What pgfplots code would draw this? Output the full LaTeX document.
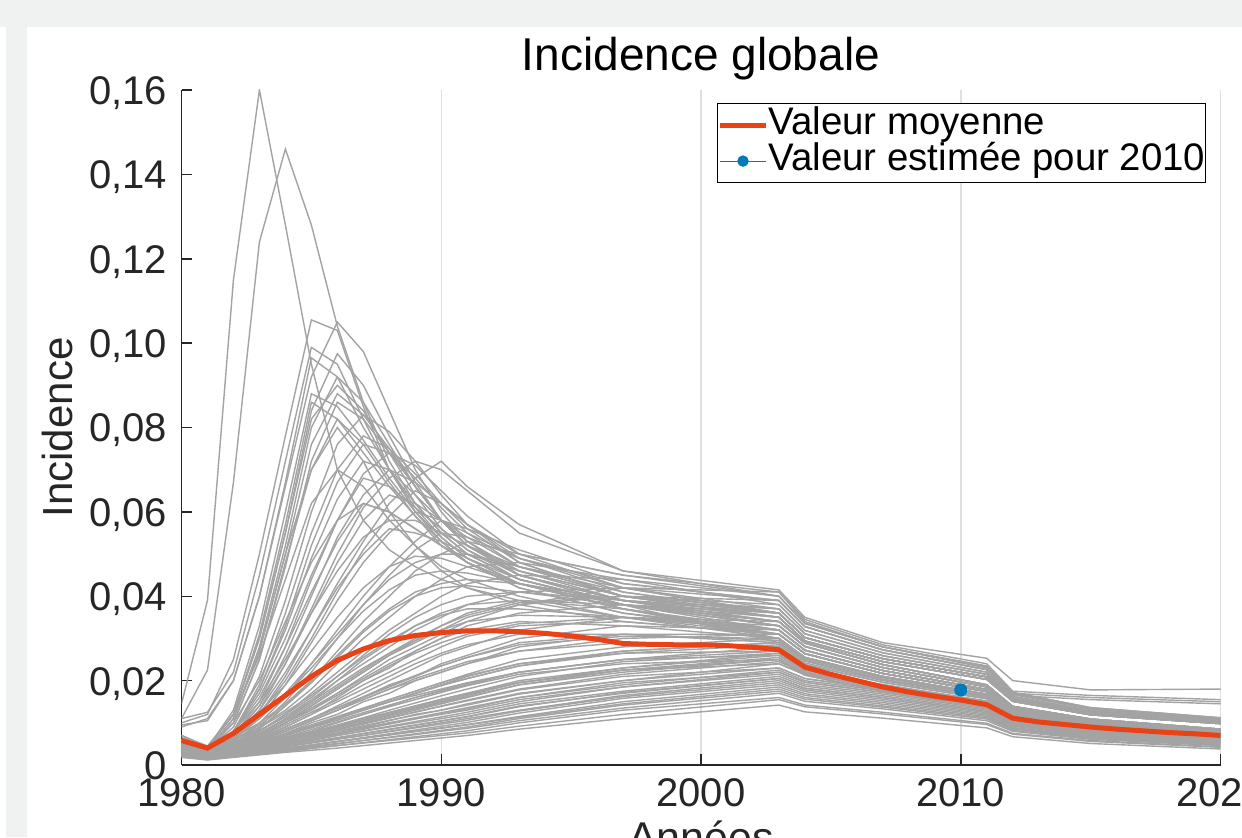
\documentclass[border=0pt]{standalone}
\usepackage{fontspec}
\setmainfont{Liberation Sans}
\usepackage{pgfplots}
\usepackage{pgfplotstable}
\pgfplotsset{compat=1.18}

\definecolor{bggray}{RGB}{240,242,241}
\definecolor{axisgray}{RGB}{38,38,38}
\definecolor{gridgray}{RGB}{223,223,223}
\definecolor{curvegray}{RGB}{163,163,163}
\definecolor{meanred}{RGB}{233,66,22}
\definecolor{bluept}{RGB}{0,122,186}

% one row per simulated curve, values in 1/1000
\pgfplotstableread[header=has colnames]{
1980 1981 1982 1983 1984 1985 1986 1987 1988 1989 1990 1991 1993 1997 2003 2004 2007 2011 2012 2015 2020
14.5 39 115 160 128 95 70 58 51 47 44 42 39 35 32 27.2 22.4 17.9 13.1 10.2 8.0
11 22.5 67 124 146 128 104 86 72 62 55 50 44 38 33 28.1 23.1 18.5 13.5 10.6 8.3
10 12 25 50 78 105.5 103 85 70 60 53 48 43 37 31 26.4 21.7 17.4 12.7 9.9 7.8
9 11 20 40 66 92 105 98 84 70 60 53 45 38 34 28.9 23.8 19.0 13.9 10.9 8.5
11 12.5 22 45 72 99 95 82 70 61 54 49 43 37 30 25.5 21.0 16.8 12.3 9.6 7.5
7 4 12 30 55 84 97.5 90 78 67 58 52 45 39 35 29.4 24.5 20.3 15.1 11.9 9.8
9.5 10.5 20 40 67 96.5 92 80 70 62 55 50 44 38 34 28.9 23.8 19.0 13.9 10.9 8.5
6 3.5 11 28 52 80 92 86 76 66 58 52 46 40 36 30.2 25.2 20.9 15.5 12.2 10.1
7 4 12 30 55 82 90 84 74 64 56 51 44 38 29 24.7 20.3 16.2 11.9 9.3 7.3
6 3.5 11 27 50 76 88 83 75 66 58 52 45 39 35 29.4 24.5 20.3 15.1 11.9 9.8
7 4 13 33 60 88 85 77 68 60 54 49 43 37 31 26.4 21.7 17.4 12.7 9.9 7.8
6 3.5 10 25 47 72 86 82 74 66 58 52 45 39 37 31.1 25.9 21.5 15.9 12.6 10.4
6 4 12 31 57 86 82 74 66 59 53 48 42 36 32 27.2 22.4 17.9 13.1 10.2 8.0
6 3.5 9 21 39 60 76 83 79 72 64 57 48 40 35 29.4 24.5 20.3 15.1 11.9 9.8
5 3 8 19 36 55 70 78 75 69 62 56 48 40 36 30.2 25.2 20.9 15.5 12.2 10.1
5.5 3 8 18 33 52 67 76 74 68 61 55 47 40 38 31.9 26.6 22.0 16.3 12.9 10.6
5 3 7 15 28 44 58 69 74 71 65 59 50 45 41 34.5 28.5 24 17.5 16.5 15.5
5 3 6.5 13 24 37 50 61 68 72 70 65 55 46 40 33.5 28 23.5 17 16 15
4.5 2.5 6 12 21 32 43 53 62 68 72 66 57 46 41.5 35 29 25.3 20 17.8 18
5 3 7 14 26 40 54 64 70 67 62 57 49 41 36 30.2 25.2 20.9 15.5 12.2 10.1
4.5 2.5 6 11 19 29 39 48 55 60 58 55 49 43 39 32.8 27.3 22.6 16.8 13.3 10.9
6 3.5 11 27 50 70 80 72 60 52 46 42 38 34 31 26.4 21.7 17.4 12.7 9.9 7.8
5 3 8 17 30 45 58 68 66 61 56 51 45 39 34 28.9 23.8 19.0 13.9 10.9 8.5
4.5 3 7 14 24 36 48 58 64 62 58 54 47 40 35 29.4 24.5 20.3 15.1 11.9 9.8
4.5 2.5 6 12 20 30 41 51 59 65 62 57 50 42 36 30.2 25.2 20.9 15.5 12.2 10.1
4 2.5 5.5 10 16 24 32 40 47 53 58 56 51 43 39 32.8 27.3 22.6 16.8 13.3 10.9
4 2.5 5 9 15 22 30 38 45 51 55 54 49 42 36 30.2 25.2 20.9 15.5 12.2 10.1
4 2.5 5 8.5 14 20 27 34 40 46 50 53 50 45 40 33.6 28 23.2 17.2 13.6 11.2
5 3 7 13 22 32 42 50 56 55 53 50 46 40 35 29.4 24.5 20.3 15.1 11.9 9.8
5 3 8 16 28 41 53 62 60 56 52 49 44 38 34 28.9 23.8 19.0 13.9 10.9 8.5
6 3.5 10 25 48 70 82 76 67 59 52 48 42 36 31 26.4 21.7 17.4 12.7 9.9 7.8
5 3 8 18 32 49 63 72 70 64 58 53 46 39 33 28.1 23.1 18.5 13.5 10.6 8.3
4 2.5 5 8 12 17 22 27 32 36 40 43 45 44 40 33.6 28 23.2 17.2 13.6 11.2
4 2.5 5 7.5 11 15 20 24 28 32 35 38 41 42 39 32.8 27.3 22.6 16.8 13.3 10.9
3.5 2.5 4.5 7 10 14 18 22 26 29 32 35 38 40 37 31.1 25.9 21.5 15.9 12.6 10.4
3.5 2 4.5 6.5 9 12 16 20 23 27 30 33 36 38 36 30.2 25.2 20.9 15.5 12.2 10.1
4 2.5 5 7 10 13 17 21 25 28 31 34 38 42 41 34 28 23 16.5 15.5 14.5
3.5 2 4 6 8.5 11 14 17 20 23 26 28 32 35 34 28.9 23.8 19.0 13.9 10.9 8.5
4.5 3 6 9 13 18 24 30 35 40 44 47 48 44 38 31.9 26.6 22.0 16.3 12.9 10.6
3.5 2 4 6 8 10.5 13 16 19 21 24 26 30 33 32 27.2 22.4 17.9 13.1 10.2 8.0
3 2 4 5.5 7.5 10 12 15 17 20 22 24 28 31 31 26.4 21.7 17.4 12.7 9.9 7.8
4 2.5 5 8 12 16 21 26 31 35 38 40 41 39 36 30.2 25.2 20.9 15.5 12.2 10.1
4 2.5 5 7.5 10.5 14 18 22 26 29.5 33 36 39 38 33 28.1 23.1 18.5 13.5 10.6 8.3
3.8 2.4 4.6 6.8 9.5 12.5 15.5 19 22 25 28 30.5 33 34 31 26.4 21.7 17.4 12.7 9.9 7.8
4.2 2.6 5.2 8 11.5 15.5 20 25 29 33 36 38 39 37 32 27.2 22.4 17.9 13.1 10.2 8.0
3.6 2.2 4.3 6.3 8.5 11 13.5 16 18.5 21 23.5 25.5 29 31 29.5 25.1 20.7 16.5 12.1 9.4 7.4
3 2 3.5 5 7 9 11 13 15 17 19 21 24 27 29 24.7 20.3 16.2 11.9 9.3 7.3
3 2 3.5 5 6.5 8 10 12 14 16 17.5 19 22 25 27 23.0 18.9 15.1 11.1 8.6 6.8
3 2 3 4.5 6 7.5 9 11 12.5 14 15.5 17 20 23 26 22.1 18.2 14.6 10.7 8.3 6.5
2.5 1.8 3 4 5.5 7 8.5 10 11.5 13 14.5 16 19 22 25 21.3 17.5 14.0 10.3 8.0 6.3
2.5 1.8 3 4 5 6.5 8 9 10.5 12 13 14.5 17 20 23 20.5 17.9 14.3 10.8 8.3 6.2
3 2 3 4 5 6 7.5 8.5 10 11 12 13 15.5 18.5 22 19.6 17.2 13.6 10.3 7.9 5.9
2.5 1.7 2.8 3.8 4.8 5.8 7 8 9 10 11 12 14.5 17.5 21 18.7 16.4 13.0 9.9 7.6 5.7
2.5 1.6 2.6 3.5 4.4 5.3 6.2 7 8 9 10 11 13 16.5 20 17.8 15.6 12.4 9.4 7.2 5.4
2.2 1.5 2.4 3.2 4 4.8 5.6 6.4 7.2 8 8.8 9.6 11.5 15 18.5 16.5 14.4 11.5 8.7 6.7 5.0
2 1.4 2.2 3 3.7 4.4 5.1 5.8 6.5 7.2 8 8.7 10.5 13.5 17 15.1 13.3 10.5 8.0 6.1 4.6
2 1.4 2 2.7 3.3 4 4.6 5.2 5.8 6.4 7 7.6 9.2 12 15.5 13.8 12.1 9.6 7.3 5.6 4.2
1.8 1.2 1.8 2.4 3 3.5 4 4.6 5.2 5.8 6.4 7 8.5 11 14.2 12.6 11.1 8.8 6.7 5.1 3.8
2.5 1.7 2.9 4 5.2 6.4 7.6 8.8 10 11.2 12.4 13.6 16 19 22.5 20.0 17.6 14.0 10.6 8.1 6.1
2.8 1.9 3.2 4.5 6 7.5 9 10.5 12 13.5 15 16.5 19.5 22.5 25.5 21.7 17.9 14.3 10.5 8.2 6.4
3.2 2.2 3.8 5.5 7.5 9.5 11.5 13.5 15.5 17.5 19.5 21.5 25 28 30 25.5 21.0 16.8 12.3 9.6 7.5
2.2 1.5 2.6 3.5 4.5 5.5 6.5 7.5 8.5 9.5 10.5 11.5 14 17 20.5 18.2 16.0 12.7 9.6 7.4 5.5
3.5 2.2 4 6 8 10.5 13 15.5 18 20 22 24 27 30 31 26.4 21.7 17.4 12.7 9.9 7.8
3.2 2 3.6 5.2 7 9 11 13 15 16.5 18 19.5 22 25 28 23.8 19.6 15.7 11.5 9.0 7.0
2.6 1.8 3 4.2 5.5 6.8 8 9.3 10.6 11.8 13 14.2 16.8 20 24 21.4 18.7 14.9 11.3 8.6 6.5
3 2 3.4 4.8 6.3 7.8 9.3 10.8 12.3 13.8 15.3 16.8 19.5 23 26.5 22.5 18.6 14.8 10.9 8.5 6.6
2.3 1.6 2.5 3.4 4.3 5.2 6.1 7 7.9 8.8 9.7 10.6 12.8 16.2 19.5 17.4 15.2 12.1 9.2 7.0 5.3
3.4 2.3 3.9 5.6 7.4 9.3 11.2 13.1 15 16.9 18.8 20.5 23.5 26.5 28.5 24.2 20.0 16.0 11.7 9.1 7.1
2.1 1.5 2.3 3.1 3.9 4.7 5.5 6.3 7.1 7.9 8.7 9.5 11.3 14.5 18 16.0 14.0 11.2 8.5 6.5 4.9
2.7 1.9 3.1 4.3 5.6 7 8.4 9.8 11.2 12.6 14 15.4 18 21.5 24.5 21.8 19.1 15.2 11.5 8.8 6.6
4 2.5 5 7 10 13.5 17 20.5 24 27 30 32 34 33 30 25.5 21.0 16.8 12.3 9.6 7.5
3.6 2.2 4.4 6.5 9 12 15 18 21 24 26.5 28.5 31 31 29 24.7 20.3 16.2 11.9 9.3 7.3
3.4 2.1 4 5.8 8 10.5 13 15.5 18 20.5 22.5 24.5 27 29 28 23.8 19.6 15.7 11.5 9.0 7.0
3.2 2 3.8 5.4 7.2 9.2 11.3 13.4 15.5 17.5 19.5 21.2 24 26.5 27 23.0 18.9 15.1 11.1 8.6 6.8
3 1.9 3.5 5 6.6 8.4 10.2 12 13.8 15.5 17.2 18.8 21.5 24 25 21.3 17.5 14.0 10.3 8.0 6.3
2.8 1.8 3.2 4.5 6 7.6 9.2 10.8 12.4 14 15.6 17 19.6 22.5 24 21.4 18.7 14.9 11.3 8.6 6.5
2.6 1.7 3 4.2 5.5 6.9 8.3 9.7 11.1 12.5 13.9 15.2 17.8 21 23 20.5 17.9 14.3 10.8 8.3 6.2
4.5 2.8 5.8 8.8 12.5 16.5 21 25.5 29.5 33 35.5 37 37 35 31 26.4 21.7 17.4 12.7 9.9 7.8
4.3 2.7 5.4 8.2 11.5 15 19 23 26.5 29.5 32 34 35.5 35 32 27.2 22.4 17.9 13.1 10.2 8.0
3.9 2.4 4.8 7.2 10 13 16.5 20 23.5 26.5 29 31 33.5 35 33 28.1 23.1 18.5 13.5 10.6 8.3
5 3 6.5 10 14.5 20 26 32 37 41 43 44 43 39 34 28.9 23.8 19.0 13.9 10.9 8.5
5.2 3.1 7 11 16.5 23 30 36.5 41.5 45 46 45.5 43 38 33 28.1 23.1 18.5 13.5 10.6 8.3
5.5 3.2 7.5 12.5 19 27 35 42 47 49.5 49 47 43 38 32 27.2 22.4 17.9 13.1 10.2 8.0
2.4 1.6 2.7 3.7 4.8 5.9 7 8.1 9.2 10.3 11.4 12.5 15 18.5 21.5 19.1 16.8 13.3 10.1 7.7 5.8
2.3 1.5 2.5 3.5 4.5 5.4 6.4 7.4 8.4 9.4 10.4 11.4 13.8 17.2 20.5 18.2 16.0 12.7 9.6 7.4 5.5
2.1 1.4 2.3 3.1 3.9 4.7 5.6 6.5 7.4 8.3 9.2 10.1 12.3 15.8 19 16.9 14.8 11.8 8.9 6.8 5.1
2 1.3 2.1 2.8 3.5 4.2 5 5.8 6.6 7.4 8.2 9 11 14.2 17.5 15.6 13.7 10.9 8.2 6.3 4.7
1.9 1.3 2 2.6 3.2 3.9 4.6 5.3 6 6.7 7.4 8.1 10 13 16 14.2 12.5 9.9 7.5 5.8 4.3
3.3 2.1 3.7 5.3 7 8.8 10.6 12.4 14.2 16 17.7 19.3 22 25 26 22.1 18.2 14.6 10.7 8.3 6.5
3.7 2.3 4.2 6.2 8.5 11 13.6 16.2 18.8 21.2 23.5 25.5 28.5 30.5 30 25.5 21.0 16.8 12.3 9.6 7.5
6.5 4 10 20 34 48 58 62 60 56 52 48 43 37 32 27.2 22.4 17.9 13.1 10.2 8.0
7 4.5 12 26 44 62 70 66 58 52 47 44 40 35 30 25.5 21.0 16.8 12.3 9.6 7.5
5.5 3.3 8 15 25 36 46 54 58 58 55 52 47 41 36 30.2 25.2 20.9 15.5 12.2 10.1
4.8 3 6.5 11 17 24 31 38 44 48 50 50 47 42 37 31.1 25.9 21.5 15.9 12.6 10.4
3.8 2.4 4.8 7.5 10.8 14.5 18.5 22.5 26.5 30 33 35.5 38.5 40 39 32.8 27.3 22.6 16.8 13.3 10.9
2.9 1.9 3.3 4.7 6.2 7.8 9.5 11.2 13 14.7 16.4 18 21 24.5 26.5 22.5 18.6 14.8 10.9 8.5 6.6
2.5 1.7 2.8 3.9 5 6.1 7.3 8.5 9.7 10.9 12.1 13.3 16 19.5 22 19.6 17.2 13.6 10.3 7.9 5.9
4.6 2.9 6 9.5 14 19.5 25.5 31.5 36.5 40 42 42.5 41 38 35 29.4 24.5 20.3 15.1 11.9 9.8
3.1 2 3.6 5.2 7 9 11 13 15 17 19 20.5 23.5 27 29 24.7 20.3 16.2 11.9 9.3 7.3
2.7 1.8 3.1 4.4 5.8 7.3 8.8 10.3 11.8 13.3 14.8 16.2 19 22.5 25 21.3 17.5 14.0 10.3 8.0 6.3
}\rawcurves
\pgfplotstabletranspose{\curves}{\rawcurves}

\begin{document}
\begin{tikzpicture}
\useasboundingbox (-90.75pt,-36pt) rectangle (530.25pt,382.5pt);
\clip (-90.75pt,-36pt) rectangle (530.25pt,382.5pt);
\fill[bggray] (-90.75pt,-36pt) rectangle (530.25pt,382.5pt);
\fill[white] (-77.25pt,-36pt) rectangle (530.25pt,369pt);
\fill[white] (-90.75pt,-36pt) rectangle (-87.75pt,369pt);
\begin{axis}[
    at={(0pt,0pt)}, anchor=south west,
    scale only axis,
    width=519.5pt, height=337.5pt,
    xmin=1980, xmax=2020, ymin=0, ymax=160,
    axis x line*=bottom, axis y line*=left,
    axis line style={-, draw=axisgray, line width=0.75pt},
    tick align=inside,
    major tick length=5.5pt,
    tick style={draw=axisgray, line width=0.75pt},
    xtick={1980,1990,2000,2010,2020},
    xticklabels={1980,1990,2000,2010,2020},
    ytick={0,20,40,60,80,100,120,140,160},
    yticklabels={0,{0,02},{0,04},{0,06},{0,08},{0,10},{0,12},{0,14},{0,16}},
    ticklabel style={font=\fontsize{20}{24}\selectfont, text=axisgray, inner sep=0pt},
    xticklabel style={anchor=north, yshift=-6.5pt},
    yticklabel style={anchor=base east, xshift=-7pt, yshift=-7.2pt},
    xmajorgrids, grid style={draw=gridgray, line width=0.75pt},
    title={Incidence globale},
    title style={at={(axis description cs:0.5,1)}, anchor=base, yshift=3.5pt, inner sep=0pt, font=\fontsize{23}{27}\selectfont},
    xlabel={Années},
    xlabel style={at={(axis description cs:0.5,0)}, anchor=north, yshift=-27.5pt, inner sep=0pt, font=\fontsize{21.5}{26}\selectfont, text=axisgray},
    ylabel={Incidence},
    ylabel style={at={(axis description cs:0,0.5)}, anchor=center, yshift=62.25pt, inner sep=0pt, font=\fontsize{21}{26}\selectfont, text=axisgray},
    legend style={at={(1,1)}, anchor=north east, xshift=-7.25pt, yshift=-6.5pt,
        draw=black, line width=0.6pt, fill=white,
        font=\fontsize{19.2}{20}\selectfont,
        inner xsep=0pt, inner ysep=1.75pt,
        /tikz/column sep=0pt,
        nodes={inner sep=0pt, text height=13.6pt, text depth=4.4pt}},
    legend cell align=left,
]
\pgfplotsinvokeforeach{0,...,99}{
  \addplot[color=curvegray, line width=0.7pt, mark=none, forget plot] table[x=colnames, y=#1] {\curves};
}
\addplot[color=meanred, line width=2.5pt, mark=none,
    legend image code/.code={\draw[meanred, line width=2.5pt] (0pt,0pt) -- (23pt,0pt);}]
  coordinates {(1980,5.8) (1981,4.0) (1982,7.5) (1983,12.0) (1984,16.5) (1985,21.0) (1986,24.8)
    (1987,27.5) (1988,29.5) (1989,30.7) (1990,31.4) (1991,31.8) (1992,31.8) (1993,31.6)
    (1994,31.2) (1995,30.6) (1996,29.8) (1997,28.8) (1998,28.6) (1999,28.5) (2000,28.5)
    (2001,28.3) (2002,27.9) (2003,27.3) (2004,23.2) (2005,21.5) (2006,20.0) (2007,18.5)
    (2008,17.3) (2009,16.3) (2010,15.4) (2011,14.3) (2012,11.1) (2013,10.2) (2014,9.6)
    (2015,9.0) (2016,8.5) (2017,8.1) (2018,7.7) (2019,7.4) (2020,7.0)};
\addlegendentry{Valeur moyenne}
\addplot[color=bluept, line width=0.5pt, mark=*, mark size=3pt, mark options={fill=bluept, draw=bluept},
    legend image code/.code={\draw[bluept, line width=0.5pt] (0pt,0pt) -- (23pt,0pt);
      \fill[bluept] (11.5pt,0pt) circle (2.6pt);}]
  coordinates {(2010,17.8)};
\addlegendentry{Valeur estimée pour 2010}
\end{axis}
\end{tikzpicture}
\end{document}
